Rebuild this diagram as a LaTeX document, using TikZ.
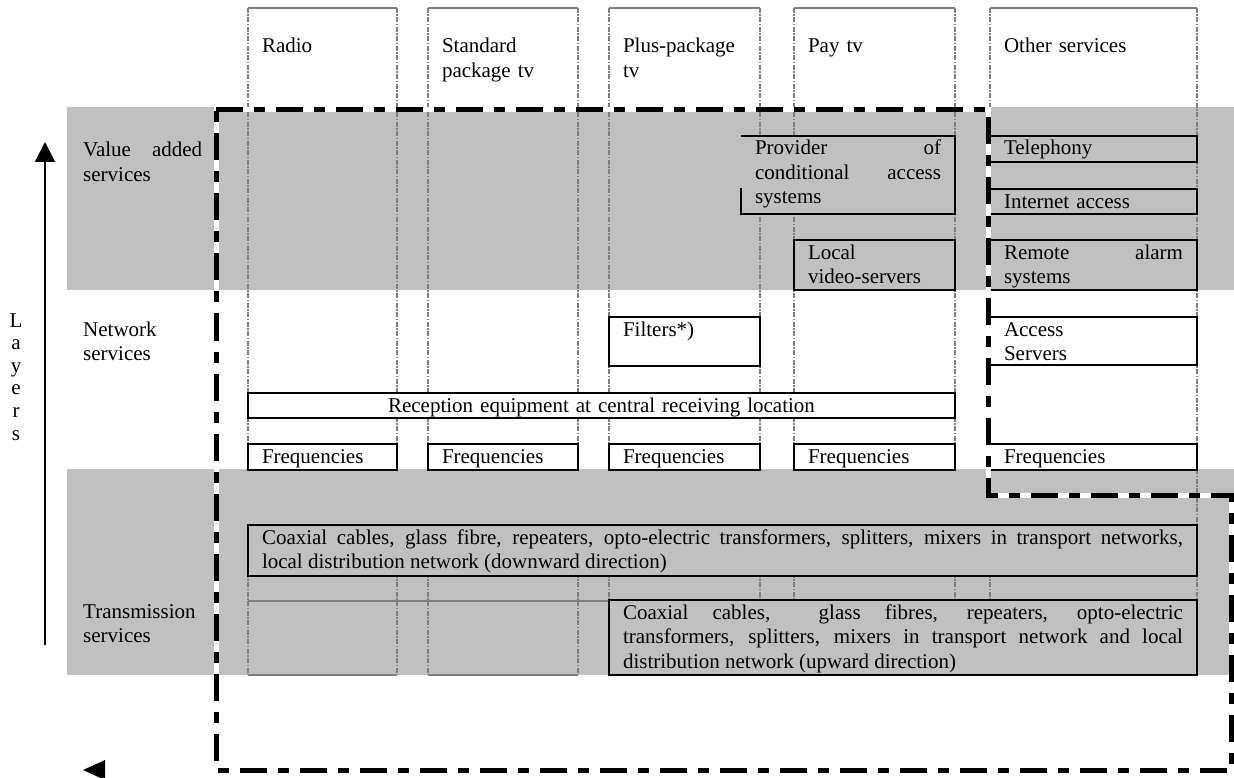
\documentclass[tikz,border=0pt]{standalone}
\usepackage{fontspec}
\setmainfont{Liberation Serif}
\usetikzlibrary{arrows.meta,calc}
\definecolor{band}{HTML}{C0C0C0}
\definecolor{colline}{HTML}{7F7F7F}
\begin{document}
\begin{tikzpicture}[x=1pt,y=-1pt,
  font=\fontsize{21}{24.5}\selectfont,
  cell/.style={draw=black, line width=1.2pt, anchor=north west, outer sep=0pt, inner xsep=14pt, inner ysep=0pt, text height=19pt, align=left},
  colbox/.style={anchor=north west, outer sep=0pt, inner xsep=14pt, inner ysep=0pt, text height=45pt, text depth=622pt, align=left},
  colside/.style={draw=colline, line width=1.1pt, dash pattern=on 5pt off 1.5pt on 1.5pt off 1.5pt},
  coledge/.style={draw=colline, line width=1.3pt},
  lbl/.style={anchor=base west, inner sep=0pt, align=left},
  bnd/.style={line width=5pt, dash pattern=on 27pt off 11pt on 11pt off 11pt},
]
\useasboundingbox (0,0) rectangle (1234,778);
\fill[white] (0,0) rectangle (1234,778);
% layer bands
\fill[band] (67,107) rectangle (1234,290);
\fill[band] (67,469) rectangle (1234,675);

% service columns
\node[colbox, text width=121pt] (radio) at (248,8) {Radio};
\node[colbox, text width=122pt] (std) at (428,8) {Standard\\package tv};
\node[colbox, text width=123pt] (plus) at (609,8) {Plus-package\\tv};
\node[colbox, text width=133pt] (pay) at (794,8) {Pay tv};
\node[colbox, text width=179pt] (other) at (990,8) {Other services};
\foreach \c in {radio,std,plus,pay,other}{
  \draw[coledge] (\c.north west) -- (\c.north east);
  \draw[coledge] (\c.south west) -- (\c.south east);
  \draw[colside] (\c.north west) -- (\c.north west |- 0,469) (\c.north east) -- (\c.north east |- 0,469);
  \draw[colside] (\c.south west |- 0,525) -- (\c.south west) (\c.south east |- 0,525) -- (\c.south east);
}
\draw[colside] (other.north east |- 0,469) -- (other.north east |- 0,525);
\draw[coledge] (radio.south west |- 0,601) -- (plus.south west |- 0,601);

% value added services
\node[cell, fill=band, draw=none, text width=186pt, text depth=59pt] (prov) at (741,136) {Provider\hfill of\\conditional\hfill access\\systems};
\draw[line width=1.2pt] ($(prov.south west)+(0,-26)$) -- (prov.south west) -- (prov.south east) -- (prov.north east) -- (prov.north west);
\node[cell, fill=band, text width=179pt, text depth=7pt] (tel) at (990,136) {Telephony};
\node[cell, fill=band, text width=179pt, text depth=6pt] (inet) at (990,189) {Internet access};
\node[cell, fill=band, text width=133pt, text depth=31pt] (lvs) at (794,240) {Local\\video-servers};
\node[cell, fill=band, text width=179pt, text depth=31pt] (ras) at (990,240) {Remote\hfill alarm\\systems};

% network services
\node[cell, fill=white, text width=123pt, text depth=30pt] (filt) at (609,317) {Filters*)};
\node[cell, fill=white, text width=179pt, text depth=29pt] (acc) at (990,317) {Access\\Servers};
\node[cell, fill=white, text width=679pt, text depth=6pt, align=center] (rec) at (248,393) {Reception equipment at central receiving location};
\node[cell, fill=white, text width=121pt, text depth=7pt] (f1) at (248,444) {Frequencies};
\node[cell, fill=white, text width=122pt, text depth=7pt] (f2) at (428,444) {Frequencies};
\node[cell, fill=white, text width=123pt, text depth=7pt] (f3) at (609,444) {Frequencies};
\node[cell, fill=white, text width=133pt, text depth=7pt] (f4) at (794,444) {Frequencies};
\node[cell, fill=white, text width=179pt, text depth=7pt] (f5) at (990,444) {Frequencies};

% transmission services
\node[cell, fill=band, text width=921pt, text depth=32pt, align=justify] (down) at (248,525) {Coaxial cables, glass fibre, repeaters, opto-electric transformers, splitters, mixers in transport networks,\linebreak local distribution network (downward direction)};
\node[cell, fill=band, text width=560pt, text depth=56pt, align=justify] (up) at (609,600) {Coaxial cables,\ \ glass fibres, repeaters, opto-electric\linebreak transformers, splitters, mixers in transport network and local\linebreak distribution network (upward direction)};

% layer labels
\node[lbl, text width=119pt] (lva) at (83,157) {Value\hfill added\\services};
\node[lbl, text width=130pt] (lns) at (83,336) {Network\\services};
\node[lbl, text width=130pt] (lts) at (83,618) {Transmission\\services};
\node[anchor=base, inner sep=0pt, text width=20pt, align=center, font=\fontsize{21}{22.6}\selectfont] (layers) at (16,327) {L\\a\\y\\e\\r\\s};

% layer arrow
\coordinate (ab) at (45,645);
\coordinate (at) at (45,142);
\draw[line width=2pt, -{Triangle[width=20pt,length=20pt]}] (ab) -- (at);
\fill (83,770) -- (105,760) -- (105,780) -- cycle;

% dash-dot boundary
\coordinate (b1) at (216,109.5);
\coordinate (b2) at (988,109.5);
\coordinate (b3) at (988,495);
\coordinate (b4) at (1231,495);
\coordinate (b5) at (1231,770);
\coordinate (b6) at (216,770);
\draw[white, line width=5pt] (b1) -- (b2) -- (b3) -- (b4) -- (b5) -- (b6) -- cycle;
\draw[bnd] (b1) -- (b2) -- (b3) -- (b4) -- (b5) -- (b6) -- cycle;
\end{tikzpicture}
\end{document}
